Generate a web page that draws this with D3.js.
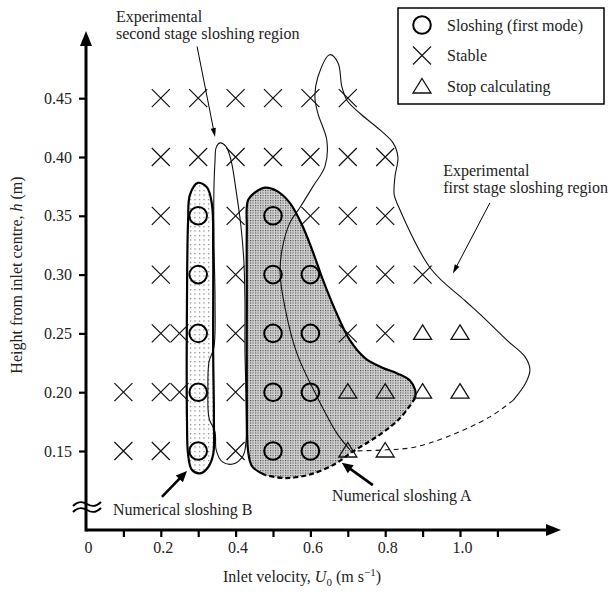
<!DOCTYPE html>
<html>
<head>
<meta charset="utf-8">
<script src="https://cdn.jsdelivr.net/npm/d3@7"></script>
<style>
  body { margin: 0; background: #fff; }
  svg text { font-family: "Liberation Serif", "Times New Roman", serif; fill: #222; }
</style>
</head>
<body>
<svg id="chart" width="609" height="595"></svg>
<script>
// grid of calculated cases (u = inlet velocity, h = height)
const sloshing = [
  [0.3, 0.15], [0.5, 0.15], [0.6, 0.15],
  [0.3, 0.20], [0.5, 0.20], [0.6, 0.20],
  [0.3, 0.25], [0.5, 0.25], [0.6, 0.25],
  [0.3, 0.30], [0.5, 0.30], [0.6, 0.30],
  [0.3, 0.35], [0.5, 0.35]
];
const stable = [
  [0.2, 0.45], [0.3, 0.45], [0.4, 0.45], [0.5, 0.45], [0.6, 0.45], [0.7, 0.45],
  [0.2, 0.40], [0.3, 0.40], [0.4, 0.40], [0.5, 0.40], [0.6, 0.40], [0.7, 0.40], [0.8, 0.40],
  [0.2, 0.35], [0.4, 0.35], [0.6, 0.35], [0.7, 0.35], [0.8, 0.35],
  [0.2, 0.30], [0.4, 0.30], [0.7, 0.30], [0.8, 0.30], [0.9, 0.30],
  [0.2, 0.25], [0.25, 0.25], [0.4, 0.25], [0.7, 0.25], [0.8, 0.25],
  [0.1, 0.20], [0.2, 0.20], [0.25, 0.20], [0.4, 0.20],
  [0.1, 0.15], [0.2, 0.15], [0.4, 0.15]
];
const stopCalc = [
  [0.9, 0.25], [1.0, 0.25],
  [0.7, 0.20], [0.8, 0.20], [0.9, 0.20], [1.0, 0.20],
  [0.7, 0.15], [0.8, 0.15]
];

// region outlines, in (u, h)
const regionB = [
  [0.299, 0.378], [0.324, 0.374], [0.337, 0.359], [0.340, 0.321], [0.340, 0.236],
  [0.342, 0.176], [0.340, 0.147], [0.326, 0.136], [0.305, 0.131], [0.283, 0.134],
  [0.273, 0.147], [0.270, 0.176], [0.270, 0.278], [0.273, 0.346], [0.278, 0.368]
];
const regionASolid = [
  [0.479, 0.1296], [0.444, 0.137], [0.433, 0.151], [0.430, 0.193], [0.430, 0.278],
  [0.430, 0.338], [0.433, 0.363], [0.452, 0.370], [0.479, 0.374], [0.511, 0.371],
  [0.545, 0.361], [0.578, 0.342], [0.607, 0.319], [0.634, 0.295], [0.666, 0.270],
  [0.706, 0.244], [0.746, 0.229], [0.791, 0.221], [0.832, 0.216], [0.866, 0.210],
  [0.880, 0.202], [0.880, 0.195]
];
const regionADashed = [
  [0.880, 0.195], [0.840, 0.178], [0.786, 0.164], [0.711, 0.149], [0.666, 0.139],
  [0.599, 0.130], [0.532, 0.127], [0.479, 0.1296]
];
const secondStage = [
  [0.358, 0.412], [0.374, 0.409], [0.388, 0.397], [0.401, 0.372], [0.414, 0.342],
  [0.422, 0.312], [0.425, 0.278], [0.425, 0.236], [0.428, 0.193], [0.428, 0.159],
  [0.420, 0.146], [0.393, 0.139], [0.364, 0.141], [0.348, 0.151], [0.345, 0.166],
  [0.329, 0.178], [0.326, 0.202], [0.329, 0.226], [0.342, 0.238], [0.345, 0.278],
  [0.342, 0.329], [0.342, 0.372], [0.345, 0.397], [0.348, 0.408]
];
const firstSolid = [
  [0.706, 0.151], [0.671, 0.165], [0.618, 0.196], [0.564, 0.233], [0.532, 0.272],
  [0.519, 0.301], [0.524, 0.321], [0.545, 0.344], [0.572, 0.357], [0.607, 0.375],
  [0.639, 0.392], [0.644, 0.414], [0.620, 0.437], [0.612, 0.451], [0.620, 0.468],
  [0.652, 0.487], [0.674, 0.480], [0.684, 0.460], [0.698, 0.448], [0.733, 0.437],
  [0.786, 0.423], [0.821, 0.412], [0.834, 0.400], [0.826, 0.383], [0.824, 0.368],
  [0.834, 0.359], [0.922, 0.305], [1.013, 0.278], [1.061, 0.264], [1.126, 0.244],
  [1.174, 0.230], [1.187, 0.219], [1.176, 0.208], [1.142, 0.193]
];
const firstDashed = [
  [1.142, 0.193], [1.080, 0.179], [0.965, 0.162], [0.874, 0.153], [0.805, 0.151], [0.706, 0.150]
];

const xTickValues = [0.1, 0.2, 0.3, 0.4, 0.5, 0.6, 0.7, 0.8, 0.9, 1.0, 1.1];
const xLabelValues = [0, 0.2, 0.4, 0.6, 0.8, 1.0];
const xLabels = ["0", "0.2", "0.4", "0.6", "0.8", "1.0"];
const yTickValues = [0.15, 0.20, 0.25, 0.30, 0.35, 0.40, 0.45];

const legendItems = ["Sloshing (first mode)", "Stable", "Stop calculating"];

const svg = d3.select("#chart");

const x = d3.scaleLinear().domain([0, 1.1]).range([86, 497.4]);
const y = d3.scaleLinear().domain([0.15, 0.45]).range([451, 98.2]);

// fill patterns
const defs = svg.append("defs");
const patA = defs.append("pattern")
    .attr("id", "dotsA").attr("patternUnits", "userSpaceOnUse")
    .attr("width", 2.5).attr("height", 2.5);
patA.append("rect").attr("width", 2.5).attr("height", 2.5).attr("fill", "#d2d2d2");
patA.append("rect").attr("width", 1.1).attr("height", 1.1).attr("fill", "#444");

const patB = defs.append("pattern")
    .attr("id", "dotsB").attr("patternUnits", "userSpaceOnUse")
    .attr("width", 4.5).attr("height", 4.5);
patB.append("rect").attr("width", 4.5).attr("height", 4.5).attr("fill", "#fff");
patB.append("rect").attr("x", 1).attr("y", 1).attr("width", 1.1).attr("height", 1.1).attr("fill", "#555");

const lineOpen = d3.line().x(d => x(d[0])).y(d => y(d[1])).curve(d3.curveCatmullRom.alpha(0.5));
const lineClosed = d3.line().x(d => x(d[0])).y(d => y(d[1])).curve(d3.curveCatmullRomClosed.alpha(0.5));

// numerical region A fill + outline
const regionA = regionASolid.concat(regionADashed.slice(1, -1));
svg.append("path").attr("d", lineClosed(regionA)).attr("fill", "url(#dotsA)");
// numerical region B fill
svg.append("path").attr("d", lineClosed(regionB)).attr("fill", "url(#dotsB)");

// experimental regions (thin)
svg.append("path").attr("d", lineClosed(secondStage))
    .attr("fill", "none").attr("stroke", "#111").attr("stroke-width", 1.1);
svg.append("path").attr("d", lineOpen(firstSolid))
    .attr("fill", "none").attr("stroke", "#111").attr("stroke-width", 1.1);
svg.append("path").attr("d", lineOpen(firstDashed))
    .attr("fill", "none").attr("stroke", "#111").attr("stroke-width", 1.1)
    .attr("stroke-dasharray", "5,4");

// numerical outlines (thick)
svg.append("path").attr("d", lineClosed(regionB))
    .attr("fill", "none").attr("stroke", "#000").attr("stroke-width", 2.2);
svg.append("path").attr("d", lineOpen(regionASolid))
    .attr("fill", "none").attr("stroke", "#000").attr("stroke-width", 2.2);
svg.append("path").attr("d", lineOpen(regionADashed))
    .attr("fill", "none").attr("stroke", "#000").attr("stroke-width", 2.2)
    .attr("stroke-dasharray", "5,3");

// markers
const crossPath = s => `M${-s},${-s}L${s},${s}M${-s},${s}L${s},${-s}`;
const triPath = "M0,-8.5L9,6L-9,6Z";

svg.append("g").selectAll("circle").data(sloshing).join("circle")
    .attr("cx", d => x(d[0])).attr("cy", d => y(d[1])).attr("r", 8.8)
    .attr("fill", "none").attr("stroke", "#000").attr("stroke-width", 2);
svg.append("g").selectAll("path").data(stable).join("path")
    .attr("transform", d => `translate(${x(d[0])},${y(d[1])})`)
    .attr("d", crossPath(9)).attr("stroke", "#111").attr("stroke-width", 1.2);
svg.append("g").selectAll("path").data(stopCalc).join("path")
    .attr("transform", d => `translate(${x(d[0])},${y(d[1])})`)
    .attr("d", triPath).attr("fill", "none").attr("stroke", "#111").attr("stroke-width", 1.3);

// axes
const gx = svg.append("g").attr("transform", `translate(0,${530})`);
gx.call(d3.axisBottom(x).tickValues(xTickValues).tickSize(7).tickFormat(""));
gx.call(g => g.select(".domain").remove());
gx.selectAll(".tick line").attr("stroke", "#000").attr("stroke-width", 2.2);

const gxl = svg.append("g").attr("transform", `translate(2,${530})`);
gxl.call(d3.axisBottom(x).tickValues(xLabelValues).tickSize(0).tickPadding(12)
    .tickFormat((d, i) => xLabels[i]));
gxl.call(g => g.select(".domain").remove());
gxl.selectAll("text").attr("font-family", null).attr("font-size", 16).attr("fill", "#222");

const gy = svg.append("g").attr("transform", `translate(${86},0)`);
gy.call(d3.axisLeft(y).tickValues(yTickValues).tickSize(7).tickPadding(7).tickFormat(d3.format(".2f")));
gy.call(g => g.select(".domain").remove());
gy.selectAll(".tick line").attr("stroke", "#000").attr("stroke-width", 2.2);
gy.selectAll("text").attr("font-family", null).attr("font-size", 16).attr("fill", "#222");

// axis lines with arrow heads
svg.append("path").attr("d", "M86,530L548,530").attr("stroke", "#000").attr("stroke-width", 3);
svg.append("path").attr("d", "M546,524L561,530L546,536Z").attr("fill", "#000");
svg.append("path").attr("d", "M86,531.5L86,44").attr("stroke", "#000").attr("stroke-width", 3);
svg.append("path").attr("d", "M80,46L86,31L92,46Z").attr("fill", "#000");

// axis break mark
[504, 510].forEach(yy => {
  svg.append("path")
      .attr("d", `M73,${yy + 2}C78,${yy - 3} 82,${yy - 3} 87,${yy}S96,${yy + 3} 101,${yy - 2}`)
      .attr("fill", "none").attr("stroke", "#000").attr("stroke-width", 2);
});

// axis titles
svg.append("text").attr("x", 302).attr("y", 582).attr("text-anchor", "middle")
    .attr("font-size", 16)
    .call(t => {
      t.append("tspan").text("Inlet velocity, ");
      t.append("tspan").attr("font-style", "italic").text("U");
      t.append("tspan").attr("font-size", 11).attr("dy", 4).text("0");
      t.append("tspan").attr("dy", -4).text(" (m s");
      t.append("tspan").attr("font-size", 11).attr("dy", -6).text("\u22121");
      t.append("tspan").attr("dy", 6).text(")");
    });
svg.append("text").attr("transform", "translate(22,275) rotate(-90)")
    .attr("text-anchor", "middle").attr("font-size", 16)
    .call(t => {
      t.append("tspan").text("Height from inlet centre, ");
      t.append("tspan").attr("font-style", "italic").text("h");
      t.append("tspan").text(" (m)");
    });

// annotations
function arrow(from, to, width, headLen, headHalf) {
  const x1 = x(from[0]), y1 = y(from[1]), x2 = x(to[0]), y2 = y(to[1]);
  const a = Math.atan2(y2 - y1, x2 - x1);
  const bx = x2 - headLen * Math.cos(a), by = y2 - headLen * Math.sin(a);
  svg.append("path").attr("d", `M${x1},${y1}L${bx + Math.cos(a)},${by + Math.sin(a)}`)
      .attr("stroke", "#000").attr("stroke-width", width);
  const px = -Math.sin(a) * headHalf, py = Math.cos(a) * headHalf;
  svg.append("path").attr("d", `M${x2},${y2}L${bx + px},${by + py}L${bx - px},${by - py}Z`)
      .attr("fill", "#000");
}
arrow([0.203, 0.111], [0.270, 0.133], 2.6, 11, 5);
arrow([0.767, 0.121], [0.684, 0.140], 2.6, 11, 5);
arrow([0.297, 0.494], [0.345, 0.417], 1, 9, 2.6);
arrow([1.080, 0.361], [0.981, 0.301], 1, 9, 2.6);

function label(pos, lines) {
  const t = svg.append("text").attr("x", x(pos[0])).attr("y", y(pos[1]))
      .attr("font-size", 16).attr("dominant-baseline", "central");
  lines.forEach((s, i) => t.append("tspan").attr("x", x(pos[0])).attr("dy", i ? 17 : 0).text(s));
}
label([0.080, 0.520], ["Experimental", "second stage sloshing region"]);
label([0.955, 0.389], ["Experimental", "first stage sloshing region"]);
label([0.072, 0.101], ["Numerical sloshing B"]);
label([0.658, 0.113], ["Numerical sloshing A"]);

// legend
const lg = svg.append("g");
lg.append("rect").attr("x", 398).attr("y", 8).attr("width", 206).attr("height", 96)
    .attr("fill", "#fff").attr("stroke", "#000").attr("stroke-width", 1.5);
const rowY = d3.scalePoint().domain(legendItems).range([25, 86]);
lg.append("circle").attr("cx", 422).attr("cy", rowY(legendItems[0])).attr("r", 8.8)
    .attr("fill", "none").attr("stroke", "#000").attr("stroke-width", 2);
lg.append("path").attr("transform", `translate(422,${rowY(legendItems[1])})`)
    .attr("d", crossPath(9)).attr("stroke", "#111").attr("stroke-width", 1.2);
lg.append("path").attr("transform", `translate(422,${rowY(legendItems[2]) + 1})`)
    .attr("d", triPath).attr("fill", "none").attr("stroke", "#111").attr("stroke-width", 1.3);
lg.selectAll("text").data(legendItems).join("text")
    .attr("x", 447).attr("y", d => rowY(d)).attr("dominant-baseline", "central")
    .attr("font-size", 16).text(d => d);
</script>
</body>
</html>
